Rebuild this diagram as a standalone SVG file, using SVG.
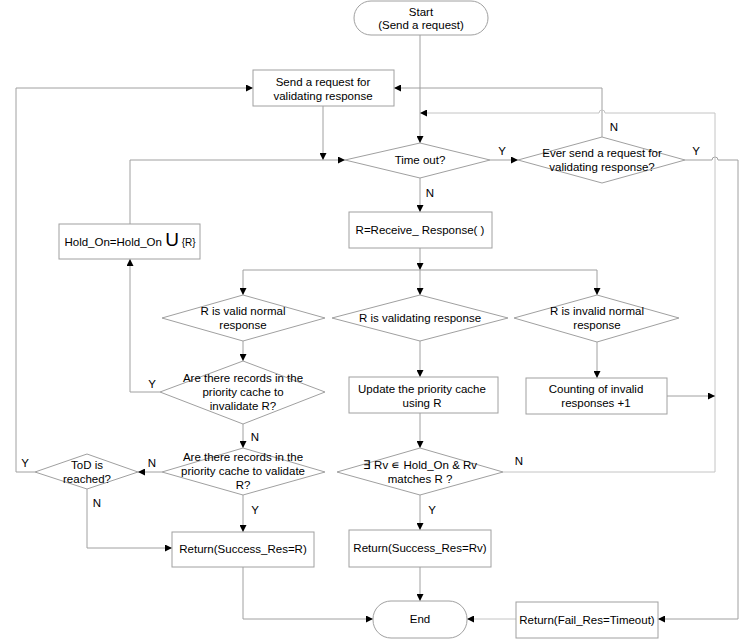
<svg xmlns="http://www.w3.org/2000/svg" width="747" height="639" viewBox="0 0 747 639">
<style>
  .shape { fill: #ffffff; stroke: #a0a0a0; stroke-width: 1; }
  .c { fill: none; stroke: #a0a0a0; stroke-width: 1; }
  .cl { fill: none; stroke: #c4c4c4; stroke-width: 1; }
  .arr { marker-end: url(#ah); }
  text { font-family: "Liberation Sans", Arial, sans-serif; font-size: 11.5px; fill: #000; text-anchor: middle; }
  .lbl { font-size: 11.5px; }
</style>
<defs>
  <marker id="ah" viewBox="0 0 8 8" refX="8" refY="4" markerWidth="7" markerHeight="7" orient="auto" markerUnits="userSpaceOnUse">
    <path d="M0,0 L8,4 L0,8 z" fill="#000"/>
  </marker>
</defs>
<rect width="747" height="639" fill="#ffffff"/>

<g id="connectors">
  <path class="c arr" d="M420,35 L420,143"/>
  <path class="c arr" d="M323,106 L323,160"/>
  <path class="c arr" d="M130,224 L130,160 L345,160"/>
  <path class="c arr" d="M490,160 L518,160"/>
  <path class="c arr" d="M602,137 L602,88 L394,88"/>
  <path class="c arr" d="M685,160 L712,160 A3,3 0 0 1 718,160 L738,160 L738,619 L658,619"/>
  <path class="c arr" d="M420,178 L420,212"/>
  <path class="c arr" d="M420,248 L420,270"/>
  <path class="c" d="M243,270 L597,270"/>
  <path class="c arr" d="M243,270 L243,295"/>
  <path class="c arr" d="M420,270 L420,295"/>
  <path class="c arr" d="M597,270 L597,295"/>
  <path class="c arr" d="M243,341 L243,361"/>
  <path class="c arr" d="M160,392 L130,392 L130,259"/>
  <path class="c arr" d="M243,424 L243,448"/>
  <path class="c arr" d="M162,472 L138,472"/>
  <path class="c arr" d="M35,472 L16,472 L16,88 L253,88"/>
  <path class="c arr" d="M87,489 L87,548 L172,548"/>
  <path class="c arr" d="M243,495 L243,532"/>
  <path class="c arr" d="M243,567 L243,619 L373,619"/>
  <path class="c arr" d="M420,341 L420,377"/>
  <path class="c arr" d="M420,413 L420,448"/>
  <path class="cl arr" d="M503,472 L715,472 L715,113 L605,113 A3,3 0 0 0 599,113 L420,113"/>
  <path class="c arr" d="M420,495 L420,530"/>
  <path class="c arr" d="M420,567 L420,601"/>
  <path class="c arr" d="M597,342 L597,378"/>
  <path class="c arr" d="M667,396 L715,396"/>
  <path class="cl arr" d="M516,619 L467,619"/>
  <text class="lbl" x="502" y="155">Y</text>
  <text class="lbl" x="614" y="131">N</text>
  <text class="lbl" x="696" y="155">Y</text>
  <text class="lbl" x="430" y="197">N</text>
  <text class="lbl" x="152" y="388">Y</text>
  <text class="lbl" x="255" y="441">N</text>
  <text class="lbl" x="152" y="467">N</text>
  <text class="lbl" x="25" y="467">Y</text>
  <text class="lbl" x="97" y="507">N</text>
  <text class="lbl" x="255" y="514">Y</text>
  <text class="lbl" x="519" y="465">N</text>
  <text class="lbl" x="432" y="514">Y</text>
</g>

<g id="start">
  <rect class="shape" x="354" y="1" width="134" height="34" rx="17" ry="17"/>
  <text x="421" y="16">Start</text>
  <text x="421" y="29">(Send a request)</text>
</g>
<g id="send-request">
  <rect class="shape" x="253" y="70" width="141" height="36"/>
  <text x="323" y="86">Send a request for</text>
  <text x="323" y="100">validating response</text>
</g>
<g id="time-out">
  <polygon class="shape" points="345,160 420,143 490,160 420,178"/>
  <text x="420" y="164">Time out?</text>
</g>
<g id="ever-send">
  <polygon class="shape" points="518,160 602,137 685,160 602,183"/>
  <text x="602" y="157">Ever send a request for</text>
  <text x="602" y="171">validating response?</text>
</g>
<g id="receive">
  <rect class="shape" x="349" y="212" width="143" height="36"/>
  <text x="420" y="234">R=Receive_ Response( )</text>
</g>
<g id="hold-on">
  <rect class="shape" x="59" y="224" width="141" height="35"/>
  <text x="130" y="246">Hold_On=Hold_On <tspan font-size="19px">U</tspan><tspan font-size="10px"> {R}</tspan></text>
</g>
<g id="valid-normal">
  <polygon class="shape" points="162,318 243,295 325,318 243,341"/>
  <text x="243" y="315">R is valid normal</text>
  <text x="243" y="329">response</text>
</g>
<g id="validating">
  <polygon class="shape" points="332,318 420,295 508,318 420,341"/>
  <text x="420" y="322">R is validating response</text>
</g>
<g id="invalid-normal">
  <polygon class="shape" points="514,318 597,295 679,318 597,342"/>
  <text x="597" y="315">R is invalid normal</text>
  <text x="597" y="329">response</text>
</g>
<g id="invalidate-q">
  <polygon class="shape" points="160,392 243,361 325,392 243,424"/>
  <text x="243" y="382">Are there records in the</text>
  <text x="243" y="396">priority cache to</text>
  <text x="243" y="410">invalidate R?</text>
</g>
<g id="update-cache">
  <rect class="shape" x="349" y="377" width="149" height="36"/>
  <text x="422" y="393">Update the priority cache</text>
  <text x="422" y="407">using R</text>
</g>
<g id="counting">
  <rect class="shape" x="526" y="378" width="141" height="36"/>
  <text x="596" y="393">Counting of invalid</text>
  <text x="596" y="407">responses +1</text>
</g>
<g id="validate-q">
  <polygon class="shape" points="162,472 243,448 325,472 243,495"/>
  <text x="243" y="461">Are there records in the</text>
  <text x="243" y="475">priority cache to validate</text>
  <text x="243" y="489">R?</text>
</g>
<g id="tod">
  <polygon class="shape" points="35,472 87,454 138,472 87,489"/>
  <text x="87" y="469">ToD is</text>
  <text x="87" y="483">reached?</text>
</g>
<g id="exists-q">
  <polygon class="shape" points="337,472 420,448 503,472 420,495"/>
  <text x="420" y="469">∃ Rv ∊ Hold_On &amp; Rv</text>
  <text x="420" y="483">matches R ?</text>
</g>
<g id="return-r">
  <rect class="shape" x="172" y="532" width="142" height="35"/>
  <text x="243" y="553">Return(Success_Res=R)</text>
</g>
<g id="return-rv">
  <rect class="shape" x="349" y="530" width="142" height="37"/>
  <text x="420" y="552">Return(Success_Res=Rv)</text>
</g>
<g id="end">
  <rect class="shape" x="373" y="601" width="94" height="37" rx="18" ry="18"/>
  <text x="420" y="623">End</text>
</g>
<g id="return-fail">
  <rect class="shape" x="516" y="602" width="142" height="36"/>
  <text x="587" y="624">Return(Fail_Res=Timeout)</text>
</g>
</svg>
